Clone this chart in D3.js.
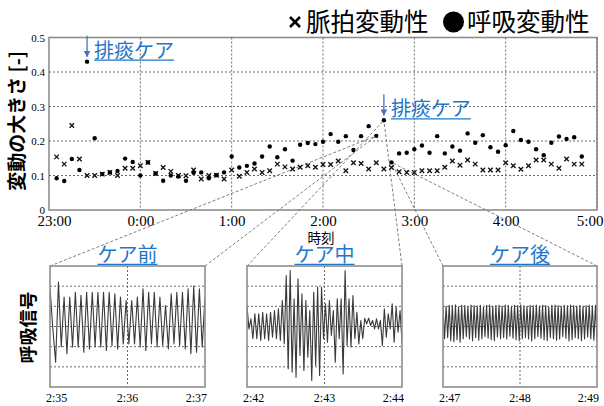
<!DOCTYPE html>
<html>
<head>
<meta charset="utf-8">
<script src="https://cdn.jsdelivr.net/npm/d3@7"></script>
<style>
  html, body { margin: 0; padding: 0; background: #fff; }
  svg { display: block; }
</style>
</head>
<body>
<svg id="chart" width="604" height="406"></svg>
<script>
// Sampling times (every 5 minutes, overnight)
const times = [
  "23:05","23:10","23:15","23:20","23:25","23:30","23:35","23:40","23:45","23:50","23:55",
  "0:00","0:05","0:10","0:15","0:20","0:25","0:30","0:35","0:40","0:45","0:50","0:55",
  "1:00","1:05","1:10","1:15","1:20","1:25","1:30","1:35","1:40","1:45","1:50","1:55",
  "2:00","2:05","2:10","2:15","2:20","2:25","2:30","2:35","2:40","2:45","2:50","2:55",
  "3:00","3:05","3:10","3:15","3:20","3:25","3:30","3:35","3:40","3:45","3:50","3:55",
  "4:00","4:05","4:10","4:15","4:20","4:25","4:30","4:35","4:40","4:45","4:50"
];

// Pulse-rate variability (×)
const pulseVar = [
  0.154,0.133,0.245,0.148,0.100,0.100,0.104,0.109,0.100,0.121,0.121,
  0.128,0.138,0.106,0.123,0.112,0.100,0.099,0.116,0.090,0.100,0.101,0.090,
  0.116,0.098,0.109,0.119,0.109,0.114,0.133,0.125,0.119,0.124,0.128,0.124,
  0.132,0.132,0.142,0.114,0.137,0.135,0.119,0.137,0.119,0.123,0.111,0.109,
  0.109,0.114,0.114,0.114,0.124,0.142,0.130,0.145,0.133,0.116,0.116,0.116,
  0.137,0.128,0.118,0.128,0.145,0.145,0.133,0.121,0.148,0.133,0.133
];

// Respiratory variability (●)
const respVar = [
  0.092,0.084,0.148,0.116,0.430,0.208,0.104,0.109,0.113,0.149,0.139,
  0.100,0.138,0.106,0.085,0.100,0.097,0.085,0.108,0.109,0.092,0.101,0.109,
  0.155,0.123,0.128,0.135,0.155,0.184,0.153,0.176,0.143,0.189,0.194,0.191,
  0.198,0.220,0.198,0.214,0.174,0.214,0.243,0.215,0.260,0.138,0.164,0.166,
  0.176,0.187,0.166,0.214,0.164,0.184,0.172,0.222,0.195,0.217,0.182,0.169,
  0.188,0.229,0.203,0.198,0.176,0.159,0.195,0.213,0.206,0.211,0.155
];

const xTickLabels = ["23:00","0:00","1:00","2:00","3:00","4:00","5:00"];
const yTicks = [0, 0.1, 0.2, 0.3, 0.4, 0.5];
const yTickLabels = ["0","0.1","0.2","0.3","0.4","0.5"];

// Sputum-clearance care events
const careTimes = ["23:25","2:40"];
const careLabel = "排痰ケア";

// Respiration waveform windows
const windowTitles = ["ケア前","ケア中","ケア後"];
const windowTicks = [["2:35","2:36","2:37"],["2:42","2:43","2:44"],["2:47","2:48","2:49"]];
const windowAnchors = ["2:35","2:40","2:45"];

// Respiration signal extremes, evenly spaced over each window
const waveBefore = [
  1.90,-0.10,-1.77,2.20,-1.00,1.46,-1.35,1.46,-1.02,1.70,-1.02,1.55,-1.27,1.70,-1.11,1.70,
  -1.02,1.70,-1.02,1.70,-1.19,1.70,-0.94,1.62,-1.11,1.46,-0.86,1.29,-0.86,1.29,-0.86,1.46,
  -1.02,1.87,-1.19,1.70,-0.86,1.70,-1.02,1.46,-0.94,1.04,-1.11,1.62,-0.86,1.70,-0.94,1.70,
  -1.11,1.87,-1.35,2.00,-1.27,1.87,-1.02,1.46
];
const waveDuring = [
  1.01,-0.12,0.38,-0.61,0.63,-0.61,0.63,-0.69,0.71,-0.61,0.63,-0.69,0.71,-0.53,0.79,-0.61,
  0.88,-0.69,1.29,-0.86,2.53,-2.10,2.78,-2.26,1.37,-2.51,2.36,-1.44,1.62,-2.18,1.29,-1.52,
  0.79,-2.68,1.70,-1.93,1.95,-2.43,1.95,-0.61,1.12,-0.78,1.29,-0.45,0.79,-1.77,1.37,-0.61,
  1.37,-2.35,2.78,-0.94,1.37,-1.02,1.54,-0.61,0.71,-0.86,0.30,-0.61,0.41,0.13,0.41,0.05,
  0.30,-0.12,0.38,-0.12,0.30,-0.94,0.88,-0.53,0.63,-0.12,1.12,-0.78,0.96,-0.28,0.79,-0.78
];
const waveAfter = [
  1.00,-0.60,1.00,-0.55,1.05,-0.70,1.04,-0.75,1.07,-0.65,0.98,-0.78,1.05,-0.60,1.04,-0.50,
  1.00,-0.62,1.06,-0.70,1.04,-0.55,1.02,-0.68,1.05,-0.60,0.95,-0.50,1.04,-0.58,1.06,-0.65,
  1.00,-0.70,1.04,-0.52,1.05,-0.60,1.02,-0.55,1.06,-0.62,1.04,-0.48,0.98,-0.58,1.05,-0.65,
  1.04,-0.70,1.07,-0.60,1.03,-0.55,1.00,-0.62,1.05,-0.72,1.04,-0.60,1.06,-0.50,1.02,-0.58,
  1.05,-0.66,1.04,-0.70,0.97,-0.55,1.05,-0.60,1.06,-0.68,1.04,-0.62,1.00,-0.50,1.05,-0.58,
  1.03,-0.72,1.06,-0.65,1.04,-0.55,1.02,-0.60,1.05,-0.70,1.00,-0.62,1.04,-0.52,1.06,-0.60,
  1.03,-0.68,1.05,-0.75
];

// ---------- helpers ----------
// minutes elapsed since 23:00 (times after midnight roll over)
function toMin(s) {
  const [h, m] = s.split(":").map(Number);
  return (h < 12 ? h + 24 : h) * 60 + m - 23 * 60;
}

const CJK = "'Noto Sans CJK JP', 'Noto Sans', sans-serif";
const SERIF = "'Liberation Serif', 'DejaVu Serif', serif";
const BLUE = "#1f77c9";
const ARROW = "#4472c4";
const GRID = "#6a6a6a";
const FRAME = "#8e8e8e";

const svg = d3.select("#chart");

// ---------- main scatter ----------
const plot = { left: 49, right: 597, top: 37.5, bottom: 210 };
const x = d3.scaleLinear().domain([toMin("23:00"), toMin("5:00")]).range([plot.left, plot.right]);
const y = d3.scaleLinear().domain([0, 0.5]).range([plot.bottom, plot.top]);

const main = svg.append("g");

main.append("rect")
  .attr("x", plot.left).attr("y", plot.top)
  .attr("width", plot.right - plot.left).attr("height", plot.bottom - plot.top)
  .attr("fill", "none").attr("stroke", FRAME).attr("stroke-width", 1.6);

// grid
main.selectAll(".hgrid").data(yTicks.filter(v => v > 0 && v < 0.5)).join("line")
  .attr("x1", plot.left).attr("x2", plot.right)
  .attr("y1", d => y(d)).attr("y2", d => y(d))
  .attr("stroke", GRID).attr("stroke-width", 1).attr("stroke-dasharray", "2,2");
main.selectAll(".vgrid").data(xTickLabels.slice(1)).join("line")
  .attr("x1", d => x(toMin(d))).attr("x2", d => x(toMin(d)))
  .attr("y1", plot.top).attr("y2", plot.bottom)
  .attr("stroke", GRID).attr("stroke-width", 1).attr("stroke-dasharray", "2,2");

// axes
const xAxis = d3.axisBottom(x)
  .tickValues(xTickLabels.map(toMin))
  .tickFormat((d, i) => xTickLabels[i])
  .tickSize(0).tickPadding(5.5);
const gx = main.append("g").attr("transform", `translate(0,${plot.bottom})`).call(xAxis);
gx.select(".domain").remove();
gx.selectAll("text").attr("font-family", SERIF).attr("font-size", 15).attr("fill", "#000");
// keep the outermost labels inside the canvas
gx.selectAll(".tick").filter((d, i) => i === 0).select("text").attr("dx", 5);
gx.selectAll(".tick").filter((d, i) => i === xTickLabels.length - 1).select("text")
  .attr("text-anchor", "end").attr("dx", 6);

const yAxis = d3.axisLeft(y)
  .tickValues(yTicks)
  .tickFormat((d, i) => yTickLabels[i])
  .tickSize(0).tickPadding(4);
const gy = main.append("g").attr("transform", `translate(${plot.left},0)`).call(yAxis);
gy.select(".domain").remove();
gy.selectAll("text").attr("font-family", SERIF).attr("font-size", 11).attr("fill", "#000");

// axis titles
svg.append("text")
  .attr("transform", "translate(17,121) rotate(-90)")
  .attr("text-anchor", "middle").attr("dy", "0.36em")
  .attr("font-family", CJK).attr("font-size", 19).attr("font-weight", "bold")
  .text("変動の大きさ [-]");

svg.append("text")
  .attr("x", 321).attr("y", 242.5).attr("text-anchor", "middle")
  .attr("font-family", CJK).attr("font-size", 13.5)
  .text("時刻");

// ---------- waveform windows ----------
const panels = [{ x0: 50, x1: 205 }, { x0: 247, x1: 402 }, { x0: 443, x1: 597 }];
const panelTop = 266, panelBottom = 387;
const waves = [waveBefore, waveDuring, waveAfter];
const py = d3.scaleLinear().domain([-3, 3]).range([panelBottom, panelTop]);

// dashed leaders from each window to its point on the scatter
const leaders = svg.append("g");
panels.forEach((b, k) => {
  const idx = times.indexOf(windowAnchors[k]);
  const ax = x(toMin(times[idx])), ay = y(respVar[idx]);
  [b.x0, b.x1].forEach(cx => {
    leaders.append("line")
      .attr("x1", cx).attr("y1", panelTop).attr("x2", ax).attr("y2", ay)
      .attr("stroke", "#707070").attr("stroke-width", 0.9).attr("stroke-dasharray", "3,2");
  });
});

// markers
const marks = svg.append("g");
marks.selectAll(".pulse").data(pulseVar).join("path")
  .attr("transform", (d, i) => `translate(${x(toMin(times[i]))},${y(d)})`)
  .attr("d", d3.symbol(d3.symbolTimes, 15))
  .attr("fill", "none").attr("stroke", "#111").attr("stroke-width", 1.35);
marks.selectAll(".resp").data(respVar).join("circle")
  .attr("cx", (d, i) => x(toMin(times[i]))).attr("cy", d => y(d))
  .attr("r", 2.2).attr("fill", "#000");

// care annotations
svg.append("defs").append("marker")
  .attr("id", "arrowHead").attr("viewBox", "0 0 10 10")
  .attr("refX", 9).attr("refY", 5).attr("markerWidth", 5).attr("markerHeight", 5)
  .attr("orient", "auto")
  .append("path").attr("d", "M0,0L10,5L0,10Z").attr("fill", ARROW);

careTimes.forEach(t => {
  const idx = times.indexOf(t);
  const cx = x(toMin(t)), cy = y(respVar[idx]);
  svg.append("line")
    .attr("x1", cx).attr("x2", cx).attr("y1", cy - 26).attr("y2", cy - 5)
    .attr("stroke", ARROW).attr("stroke-width", 1.3).attr("marker-end", "url(#arrowHead)");
  const label = svg.append("text")
    .attr("x", cx + 7).attr("y", cy - 4)
    .attr("font-family", CJK).attr("font-size", 20).attr("fill", BLUE)
    .text(careLabel);
  const w = label.node().getComputedTextLength();
  svg.append("line")
    .attr("x1", cx + 7).attr("x2", cx + 7 + w).attr("y1", cy - 1.5).attr("y2", cy - 1.5)
    .attr("stroke", BLUE).attr("stroke-width", 1.2);
});

panels.forEach((b, k) => {
  const g = svg.append("g");
  const t0 = toMin(windowTicks[k][0]), t2 = toMin(windowTicks[k][2]);
  const px = d3.scaleLinear().domain([t0, t2]).range([b.x0, b.x1]);
  const clipId = "clip" + k;
  g.append("clipPath").attr("id", clipId).append("rect")
    .attr("x", b.x0).attr("y", panelTop).attr("width", b.x1 - b.x0).attr("height", panelBottom - panelTop);

  g.selectAll(".hg").data([-2, -1, 0, 1, 2]).join("line")
    .attr("x1", b.x0).attr("x2", b.x1).attr("y1", d => py(d)).attr("y2", d => py(d))
    .attr("stroke", GRID).attr("stroke-width", 1).attr("stroke-dasharray", "2,2");
  g.append("line")
    .attr("x1", px(toMin(windowTicks[k][1]))).attr("x2", px(toMin(windowTicks[k][1])))
    .attr("y1", panelTop).attr("y2", panelBottom)
    .attr("stroke", GRID).attr("stroke-width", 1).attr("stroke-dasharray", "2,2");

  const w = waves[k];
  const step = (t2 - t0) / (w.length - 1);
  g.append("path").datum(w)
    .attr("clip-path", `url(#${clipId})`)
    .attr("d", d3.line().x((d, i) => px(t0 + i * step)).y(d => py(d)))
    .attr("fill", "none").attr("stroke", "#3a3a3a").attr("stroke-width", 1.1)
    .attr("stroke-linejoin", "round");

  g.append("rect")
    .attr("x", b.x0).attr("y", panelTop).attr("width", b.x1 - b.x0).attr("height", panelBottom - panelTop)
    .attr("fill", "none").attr("stroke", FRAME).attr("stroke-width", 1.6);

  // time labels
  windowTicks[k].forEach((lab, j) => {
    const anchor = j === 0 ? "start" : j === 1 ? "middle" : "end";
    const tx = j === 0 ? b.x0 - 4 : j === 1 ? px(toMin(lab)) : b.x1 + 2;
    g.append("text")
      .attr("x", tx).attr("y", 401.5).attr("text-anchor", anchor)
      .attr("font-family", SERIF).attr("font-size", 12).text(lab);
  });

  // title
  const cx = (b.x0 + b.x1) / 2;
  const title = g.append("text")
    .attr("x", cx).attr("y", 261.5).attr("text-anchor", "middle")
    .attr("font-family", CJK).attr("font-size", 20).attr("fill", BLUE)
    .text(windowTitles[k]);
  const tw = title.node().getComputedTextLength();
  g.append("line")
    .attr("x1", cx - tw / 2).attr("x2", cx + tw / 2).attr("y1", 264.3).attr("y2", 264.3)
    .attr("stroke", BLUE).attr("stroke-width", 1.2);
});

svg.append("text")
  .attr("transform", "translate(29,327.5) rotate(-90)")
  .attr("text-anchor", "middle").attr("dy", "0.36em")
  .attr("font-family", CJK).attr("font-size", 18).attr("font-weight", "bold")
  .text("呼吸信号");

// ---------- legend ----------
const legend = svg.append("g");
legend.append("path")
  .attr("transform", "translate(295,22)")
  .attr("d", d3.symbol(d3.symbolTimes, 67))
  .attr("fill", "none").attr("stroke", "#000").attr("stroke-width", 2.6);
legend.append("text")
  .attr("x", 306).attr("y", 30.5)
  .attr("font-family", CJK).attr("font-size", 24.5).text("脈拍変動性");
legend.append("circle").attr("cx", 453.5).attr("cy", 22).attr("r", 10.5).attr("fill", "#000");
legend.append("text")
  .attr("x", 467).attr("y", 30.5)
  .attr("font-family", CJK).attr("font-size", 24.5).text("呼吸変動性");
</script>
</body>
</html>
